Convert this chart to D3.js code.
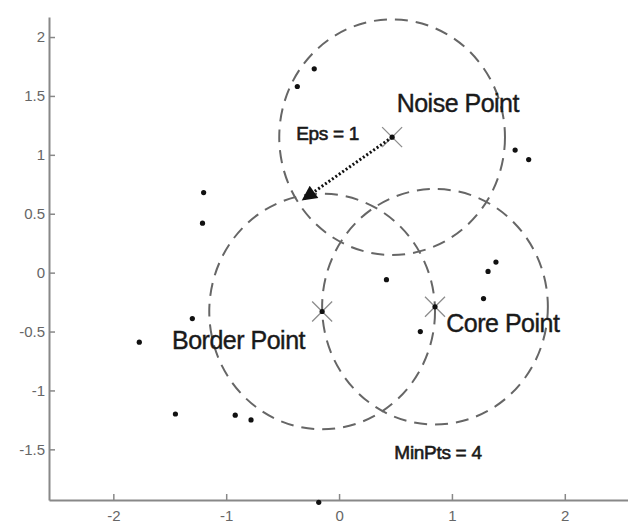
<!DOCTYPE html>
<html>
<head>
<meta charset="utf-8">
<script src="https://cdn.jsdelivr.net/npm/d3@7"></script>
<style>
  html, body { margin: 0; padding: 0; background: #fff; }
  svg { display: block; font-family: "Liberation Sans", Arial, sans-serif; }
</style>
</head>
<body>
<div id="chart"></div>
<script>
// sample points
const pointX = [-0.22, -0.37, 1.56, 1.68, -1.20, -1.21, -1.30, -1.77, -1.45, -0.92, -0.78, 0.42, 1.39, 1.32, 1.28, 0.72, -0.18, 0.47, -0.15, 0.85];
const pointY = [1.73, 1.58, 1.04, 0.96, 0.68, 0.42, -0.39, -0.59, -1.20, -1.21, -1.25, -0.06, 0.09, 0.01, -0.22, -0.50, -1.95, 1.15, -0.33, -0.29];

// the three highlighted points and their eps neighbourhoods
const centerNames = ['Noise Point', 'Border Point', 'Core Point'];
const centerX = [0.47, -0.15, 0.85];
const centerY = [1.15, -0.33, -0.29];
const EPS = 1;

// eps arrow (from noise point to edge of circle)
const arrowX = [0.47, -0.32];
const arrowY = [1.15, 0.62];

// text annotations, anchored in data units
const labelText = ['Noise Point', 'Border Point', 'Core Point', 'Eps = 1', 'MinPts = 4'];
const labelX = [0.51, -1.48, 0.95, -0.38, 0.49];
const labelY = [1.36, -0.65, -0.50, 1.13, -1.58];
const labelSize = [25, 25, 25, 19, 19];

const xTicks = [-2, -1, 0, 1, 2];
const yTicks = [-1.5, -1, -0.5, 0, 0.5, 1, 1.5, 2];

const WIDTH = 628;
const HEIGHT = 523;

const x = d3.scaleLinear().domain([-2.57, 2.56]).range([49, 628]);
const y = d3.scaleLinear().domain([-1.93, 2.17]).range([500, 17]);

const svg = d3.select('#chart')
  .append('svg')
  .attr('width', WIDTH)
  .attr('height', HEIGHT);

// axes, matlab style ticks pointing inwards
const xAxis = svg.append('g')
  .attr('transform', 'translate(0,' + y.range()[0] + ')')
  .call(d3.axisBottom(x).tickValues(xTicks).tickSizeInner(-6).tickSizeOuter(0).tickPadding(10));

const yAxis = svg.append('g')
  .attr('transform', 'translate(' + x.range()[0] + ',0)')
  .call(d3.axisLeft(y).tickValues(yTicks).tickSizeInner(-6).tickSizeOuter(0).tickPadding(4));

[xAxis, yAxis].forEach(g => {
  g.select('.domain').attr('stroke', '#888').attr('stroke-width', 2);
  g.selectAll('.tick line').attr('stroke', '#888').attr('stroke-width', 1.5);
  g.selectAll('.tick text')
    .attr('fill', '#666')
    .style('font-size', '15px')
    .style('font-family', '"Liberation Sans", Arial, sans-serif')
    .text(d => String(d).replace('−', '-'));
});

// eps circles (ellipses on screen since axes are not equal)
svg.selectAll('.eps')
  .data(centerNames)
  .enter()
  .append('ellipse')
  .attr('class', 'eps')
  .attr('cx', (d, i) => x(centerX[i]))
  .attr('cy', (d, i) => y(centerY[i]))
  .attr('rx', (d, i) => x(centerX[i] + EPS) - x(centerX[i]))
  .attr('ry', (d, i) => y(centerY[i]) - y(centerY[i] + EPS))
  .attr('fill', 'none')
  .attr('stroke', '#666')
  .attr('stroke-width', 2)
  .attr('stroke-dasharray', '13,8');

// center crosses
svg.selectAll('.cross')
  .data(centerNames)
  .enter()
  .append('path')
  .attr('class', 'cross')
  .attr('d', (d, i) => {
    const cx = x(centerX[i]);
    const cy = y(centerY[i]);
    const s = 10;
    return `M${cx - s},${cy - s}L${cx + s},${cy + s}M${cx - s},${cy + s}L${cx + s},${cy - s}`;
  })
  .attr('stroke', '#8c8c8c')
  .attr('stroke-width', 1.3)
  .attr('fill', 'none');

// data points
svg.selectAll('.pt')
  .data(pointX)
  .enter()
  .append('circle')
  .attr('class', 'pt')
  .attr('cx', d => x(d))
  .attr('cy', (d, i) => y(pointY[i]))
  .attr('r', 2.6)
  .attr('fill', '#111');

// arrow
svg.append('defs')
  .append('marker')
  .attr('id', 'head')
  .attr('viewBox', '0 0 10 10')
  .attr('refX', 9)
  .attr('refY', 5)
  .attr('markerWidth', 6)
  .attr('markerHeight', 5)
  .attr('markerUnits', 'strokeWidth')
  .attr('orient', 'auto')
  .append('path')
  .attr('d', 'M0,0L10,5L0,10Z')
  .attr('fill', '#111');

svg.append('line')
  .attr('x1', x(arrowX[0]))
  .attr('y1', y(arrowY[0]))
  .attr('x2', x(arrowX[1]))
  .attr('y2', y(arrowY[1]))
  .attr('stroke', '#111')
  .attr('stroke-width', 3)
  .attr('stroke-dasharray', '2,2.2')
  .attr('marker-end', 'url(#head)');

// labels
svg.selectAll('.lbl')
  .data(labelText)
  .enter()
  .append('text')
  .attr('class', 'lbl')
  .attr('x', (d, i) => x(labelX[i]))
  .attr('y', (d, i) => y(labelY[i]))
  .attr('fill', '#1a1a1a')
  .attr('stroke', '#1a1a1a')
  .attr('stroke-width', (d, i) => labelSize[i] > 20 ? 0.4 : 0.6)
  .style('font-size', (d, i) => labelSize[i] + 'px')
  .style('letter-spacing', (d, i) => labelSize[i] > 20 ? '-0.5px' : '-0.3px')
  .text(d => d);
</script>
</body>
</html>
